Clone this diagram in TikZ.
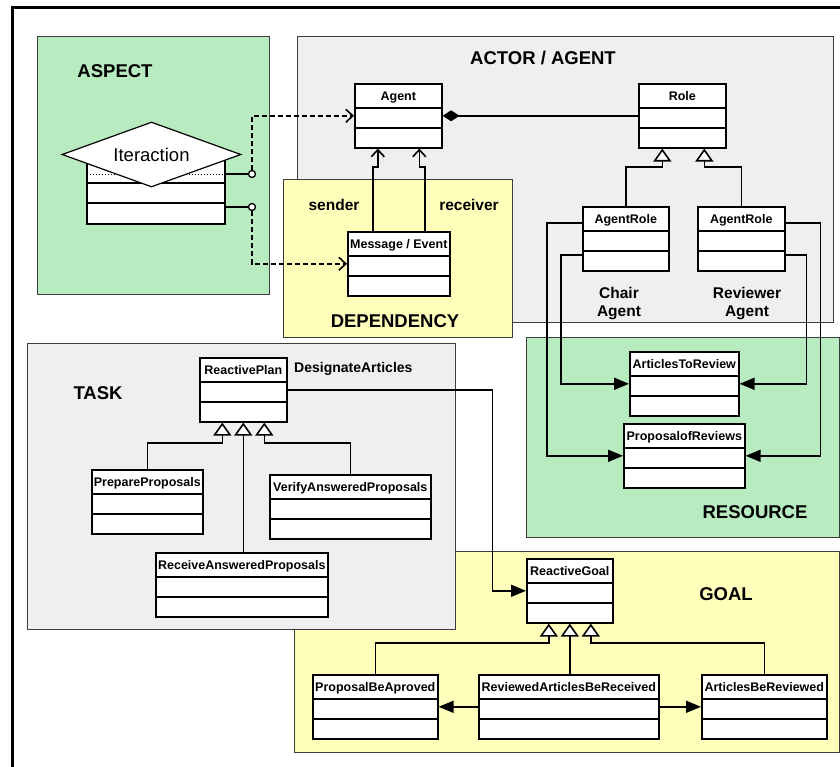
\documentclass[tikz,border=0pt]{standalone}
\usepackage{fontspec}
\setmainfont{Liberation Sans}
\usetikzlibrary{arrows.meta,shapes.geometric}

\definecolor{zonegreen}{RGB}{184,236,192}
\definecolor{zoneyellow}{RGB}{255,255,187}
\definecolor{zonegrey}{RGB}{239,239,239}
\definecolor{zoneedge}{RGB}{60,60,60}

\newcommand\umlnamefont{\bfseries\fontsize{12.5}{14}\selectfont}
\newcommand\zonelabelfont{\bfseries\fontsize{18.5}{22}\selectfont}
\newcommand\rolelabelfont{\bfseries\fontsize{15.5}{18}\selectfont}
\newcommand\flowlabelfont{\bfseries\fontsize{14}{16}\selectfont}

\begin{document}
\begin{tikzpicture}[x=1pt,y=-1pt,
  zone/.style={draw=zoneedge,line width=0.9pt},
  zonelabel/.style={font=\zonelabelfont,anchor=base,inner sep=0pt},
  taglabel/.style={font=\rolelabelfont,inner sep=0pt},
  umlclass/.style={draw,line width=1.6pt,fill=white,inner sep=0pt,
    text height=16.5pt,text depth=47.5pt,minimum width=#1,
    anchor=north west,font=\umlnamefont,
    path picture={\draw[line width=1.6pt]
      ([yshift=-24pt]path picture bounding box.north west) --
      ([yshift=-24pt]path picture bounding box.north east)
      ([yshift=-44pt]path picture bounding box.north west) --
      ([yshift=-44pt]path picture bounding box.north east);}},
  aspectbox/.style={draw,line width=1.6pt,fill=white,inner sep=0pt,
    anchor=north west,minimum width=138pt,minimum height=73pt,
    path picture={
      \draw[line width=1pt,dotted]
        ([yshift=-24pt]path picture bounding box.north west) --
        ([yshift=-24pt]path picture bounding box.north east);
      \draw[line width=1.6pt]
        ([yshift=-32pt]path picture bounding box.north west) --
        ([yshift=-32pt]path picture bounding box.north east)
        ([yshift=-52pt]path picture bounding box.north west) --
        ([yshift=-52pt]path picture bounding box.north east);}},
  joint/.style={circle,draw,line width=1.3pt,fill=white,minimum size=7pt,inner sep=0pt},
  conn/.style={line width=1.6pt},
  inh/.style={-{Triangle[length=13pt,width=18pt,fill=white]}},
  fillarrow/.style={-{Triangle[length=15pt,width=12pt]}},
  vee/.style={-{Straight Barb[length=7pt,width=13pt]}},
  dashconn/.style={conn,dash pattern=on 5pt off 3pt,vee}]

\useasboundingbox (0,0) rectangle (840,767);
\clip (0,0) rectangle (840,767);

% coloured zones
\path[zone,fill=zonegreen]  (37,36)   rectangle (269,294);
\path[zone,fill=zonegrey]   (297,36)  rectangle (833,322);
\path[zone,fill=zoneyellow] (283,179) rectangle (512,337);
\path[zone,fill=zonegreen]  (526,337) rectangle (839,537);
\path[zone,fill=zoneyellow] (294,551) rectangle (839,752);
\path[zone,fill=zonegrey]   (27,343)  rectangle (455,629);

% outer frame
\draw[line width=3pt] (12.5,900) |- (900,7.5);

% zone titles
\node[zonelabel] (lblaspect) at (115,78)  {ASPECT};
\node[zonelabel] (lblactor)  at (543,65)  {ACTOR / AGENT};
\node[zonelabel] (lbldep)    at (395,327) {DEPENDENCY};
\node[zonelabel] (lbltask)   at (98,399)  {TASK};
\node[zonelabel] (lblres)    at (755,518) {RESOURCE};
\node[zonelabel] (lblgoal)   at (726,600) {GOAL};

% aspect element
\node[aspectbox] (iterbox) at (86,150) {};
\node[diamond,draw,line width=1.2pt,fill=white,shape aspect=2.75,
      minimum width=179pt,minimum height=65pt,inner sep=0pt,
      font=\fontsize{18.5}{22}\selectfont]
      (iter) at (151.5,154.5) {Iteraction};
\node[joint] (c1) at (252,174) {};
\node[joint] (c2) at (252,207) {};

% classes
\node[umlclass=87pt]  (agent)    at (354,83)  {Agent};
\node[umlclass=87pt]  (role)     at (638,83)  {Role};
\node[umlclass=86pt]  (chair)    at (582,206) {AgentRole};
\node[umlclass=87pt]  (reviewer) at (697,206) {AgentRole};
\node[umlclass=102pt] (msg)      at (347,231) {Message / Event};
\node[umlclass=87pt]  (rplan)    at (199,357) {ReactivePlan};
\node[umlclass=111pt] (prep)     at (91,469)  {PrepareProposals};
\node[umlclass=161pt] (verify)   at (269,474) {VerifyAnsweredProposals};
\node[umlclass=172pt] (recv)     at (155,552) {ReceiveAnsweredProposals};
\node[umlclass=109pt] (atr)      at (629,351) {ArticlesToReview};
\node[umlclass=121pt] (por)      at (623,423) {ProposalofReviews};
\node[umlclass=86pt]  (rgoal)    at (526,558) {ReactiveGoal};
\node[umlclass=125pt] (pba)      at (312,674) {ProposalBeAproved};
\node[umlclass=180pt] (rabr)     at (478,674) {ReviewedArticlesBeReceived};
\node[umlclass=125pt] (abr)      at (701,674) {ArticlesBeReviewed};

% free labels
\node[taglabel,anchor=base] (lblsender)   at (334,211) {sender};
\node[taglabel,anchor=base] (lblreceiver) at (469,211) {receiver};
\node[taglabel,align=center,anchor=north] (lblchair) at (619,287) {Chair\\Agent};
\node[taglabel,align=center,anchor=north] (lblrev)   at (747,287) {Reviewer\\Agent};
\node[inner sep=0pt,font=\flowlabelfont,anchor=base west] (lbldesig) at (294,372) {DesignateArticles};

% aspect connectors
\draw[conn] (iterbox.east |- c1) -- (c1.west);
\draw[conn] (iterbox.east |- c2) -- (c2.west);
\draw[dashconn] (c1.north) |- (agent.west);
\draw[dashconn] (c2.south) |- (msg.west);

% dependency
\draw[conn,vee] ([xshift=-26pt]msg.north) -- ++(0,-64) -| ([xshift=-20.5pt]agent.south);
\draw[conn,vee] ([xshift=26pt]msg.north)  -- ++(0,-64) -| ([xshift=21pt]agent.south);

% actor / agent
\draw[conn,{Diamond[length=17pt,width=11pt]}-] (agent.east) -- (role.west);
\draw[conn,inh] (chair.north)    -- ++(0,-39) -| ([xshift=-20pt]role.south);
\draw[conn,inh] (reviewer.north) -- ++(0,-39) -| ([xshift=22pt]role.south);

% resources
\draw[conn,fillarrow] ([yshift=16pt]chair.west)     -- ++(-35,0) |- (por.west);
\draw[conn,fillarrow] ([yshift=-16pt]chair.west)    -- ++(-21,0) |- (atr.west);
\draw[conn,fillarrow] ([yshift=16pt]reviewer.east)  -- ++(35,0)  |- (por.east);
\draw[conn,fillarrow] ([yshift=-16pt]reviewer.east) -- ++(21,0)  |- (atr.east);

% task
\draw[conn,inh] (prep.north)   -- ++(0,-26) -| ([xshift=-21pt]rplan.south);
\draw[conn,inh] (rplan.south |- recv.north) -- (rplan.south);
\draw[conn,inh] (verify.north) -- ++(0,-31) -| ([xshift=21pt]rplan.south);
\draw[conn,fillarrow] (rplan.east) -- ++(205,0) |- (rgoal.west);

% goal
\draw[conn,inh] (pba.north) -- ++(0,-31) -| ([xshift=-21pt]rgoal.south);
\draw[conn,inh] (rgoal.south |- rabr.north) -- (rgoal.south);
\draw[conn,inh] (abr.north) -- ++(0,-31) -| ([xshift=21pt]rgoal.south);
\draw[conn,fillarrow] (rabr.west) -- (pba.east);
\draw[conn,fillarrow] (rabr.east) -- (abr.west);

\end{tikzpicture}
\end{document}
